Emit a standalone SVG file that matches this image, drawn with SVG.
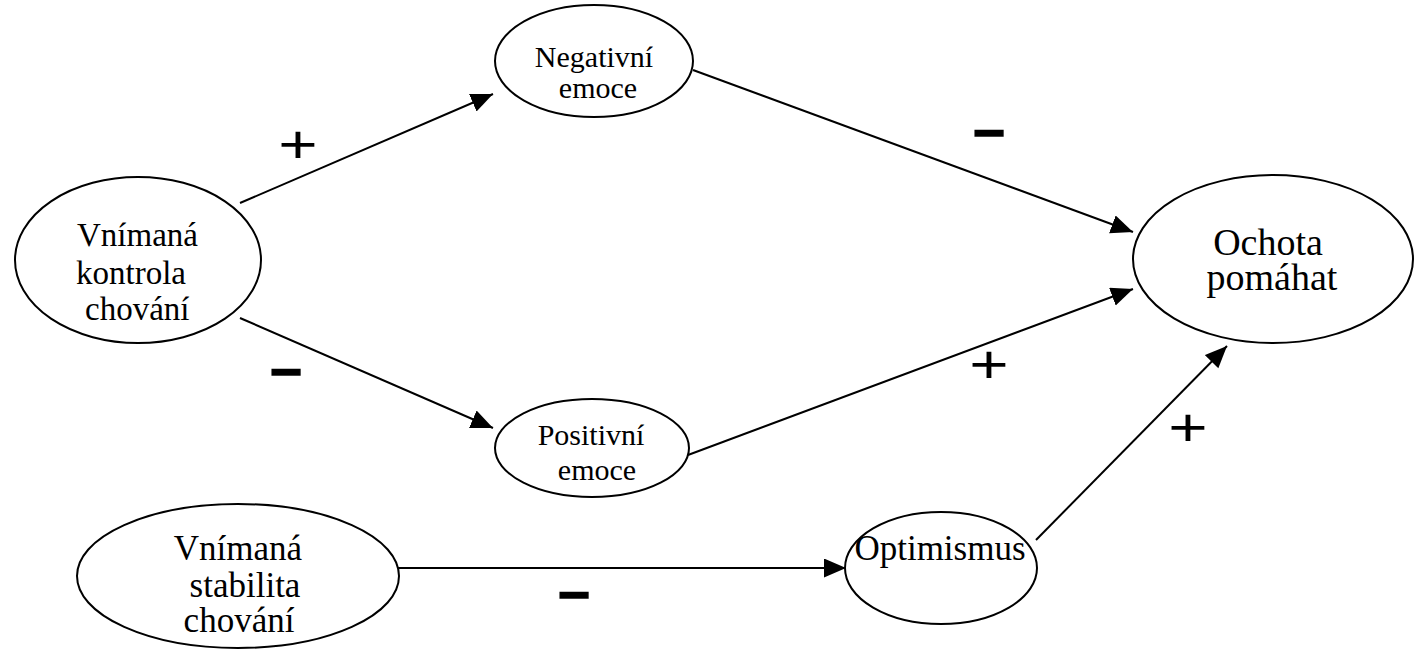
<svg xmlns="http://www.w3.org/2000/svg" width="1414" height="650" viewBox="0 0 1414 650">
<style>
.node ellipse{fill:#fff;stroke:#000;stroke-width:2}
.lbl{font-family:"Liberation Serif","Times New Roman",serif;fill:#000}
.edge line{stroke:#000;stroke-width:2;marker-end:url(#ah)}
.sign{font-family:"Liberation Sans",Arial,sans-serif;fill:#000;text-anchor:middle}
.minus{font-weight:bold;stroke:#000;stroke-width:1.5}
</style>
<defs>
<marker id="ah" markerUnits="userSpaceOnUse" markerWidth="24" markerHeight="20" refX="22" refY="9.5" orient="auto">
<path d="M0,0 L22,9.5 L0,19 Z" fill="#000"/>
</marker>
</defs>
<rect width="1414" height="650" fill="#fff"/>
<g id="edges" class="edge">
<line x1="240" y1="203" x2="493" y2="94"/>
<line x1="240" y1="318" x2="493" y2="428"/>
<line x1="693" y1="70" x2="1133" y2="232"/>
<line x1="688" y1="455" x2="1133" y2="289"/>
<line x1="398" y1="568" x2="846" y2="568"/>
<line x1="1036" y1="540" x2="1227" y2="346"/>
</g>
<g id="n_kontrola" class="node">
<ellipse cx="138" cy="260" rx="123" ry="83"/>
<text class="lbl" font-size="33"><tspan x="77" y="246">Vnímaná</tspan><tspan x="76" y="284">kontrola</tspan><tspan x="85" y="320">chování</tspan></text>
</g>
<g id="n_negativni" class="node">
<ellipse cx="594" cy="61" rx="99" ry="56"/>
<text class="lbl" font-size="30" text-anchor="middle"><tspan x="594" y="67">Negativní</tspan><tspan x="598" y="98">emoce</tspan></text>
</g>
<g id="n_positivni" class="node">
<ellipse cx="592" cy="448" rx="97" ry="49"/>
<text class="lbl" font-size="30" text-anchor="middle"><tspan x="591" y="445">Positivní</tspan><tspan x="597" y="480">emoce</tspan></text>
</g>
<g id="n_ochota" class="node">
<ellipse cx="1273" cy="259" rx="140" ry="84"/>
<text class="lbl" font-size="38" text-anchor="middle"><tspan x="1268" y="255">Ochota</tspan><tspan x="1272" y="290">pomáhat</tspan></text>
</g>
<g id="n_stabilita" class="node">
<ellipse cx="238" cy="576" rx="161" ry="72"/>
<text class="lbl" font-size="35" text-anchor="middle"><tspan x="238" y="560">Vnímaná</tspan><tspan x="245" y="597">stabilita</tspan><tspan x="239" y="632">chování</tspan></text>
</g>
<g id="n_optimismus" class="node">
<ellipse cx="941" cy="568" rx="96" ry="56"/>
<text class="lbl" font-size="35" text-anchor="middle" x="940" y="560">Optimismus</text>
</g>
<g id="signs">
<text class="sign" font-size="54" transform="translate(298,144) scale(1.25,1)" y="19">+</text>
<text class="sign" font-size="54" transform="translate(989,364) scale(1.25,1)" y="19">+</text>
<text class="sign" font-size="54" transform="translate(1188,427) scale(1.25,1)" y="19">+</text>
<text class="sign minus" font-size="56" x="286" y="387">–</text>
<text class="sign minus" font-size="56" x="989" y="148">–</text>
<text class="sign minus" font-size="56" x="574" y="610">–</text>
</g>
</svg>
